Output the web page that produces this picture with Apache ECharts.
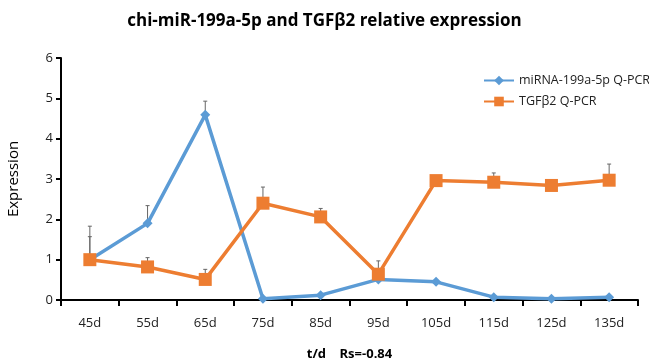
<!DOCTYPE html>
<html><head><meta charset="utf-8">
<script src="https://cdn.jsdelivr.net/npm/echarts@6/dist/echarts.min.js"></script>
<style>html,body{margin:0;padding:0;background:#fff}#c{width:649px;height:363px}</style>
</head><body><div id="c"></div>
<script>
const categories = ['45d','55d','65d','75d','85d','95d','105d','115d','125d','135d'];
const mirna = [1.0, 1.9, 4.59, 0.03, 0.12, 0.51, 0.45, 0.07, 0.03, 0.07];
const tgfb2 = [1.0, 0.82, 0.51, 2.40, 2.06, 0.64, 2.96, 2.92, 2.84, 2.97];
const mirnaErrTop = [1.83, 2.34, 4.93, null, null, null, null, null, null, null];
const tgfb2ErrTop = [1.57, 1.05, 0.76, 2.80, 2.27, 0.97, null, 3.15, null, 3.37];
const yTicks = [0,1,2,3,4,5,6];

const FONT = '"Open Sans", "Noto Sans", sans-serif';
function errData(vals, tops){
  const out=[];
  vals.forEach((v,i)=>{ if(tops[i]!=null) out.push([i, v, tops[i]]); });
  return out;
}
function errSeries(vals, tops, z){
  return {
    type:'custom', z:z, silent:true,
    data: errData(vals, tops),
    renderItem:function(params, api){
      const p0 = api.coord([api.value(0), api.value(1)]);
      const p1 = api.coord([api.value(0), api.value(2)]);
      return {type:'group', children:[
        {type:'line', shape:{x1:p0[0],y1:p0[1],x2:p1[0],y2:p1[1]}, style:{stroke:'#666',lineWidth:1}},
        {type:'line', shape:{x1:p1[0]-2,y1:p1[1],x2:p1[0]+2,y2:p1[1]}, style:{stroke:'#666',lineWidth:1}}
      ]};
    }
  };
}
const chart = echarts.init(document.getElementById('c'));
chart.setOption({
  animation:false,
  title:{text:'chi-miR-199a-5p and TGFβ2 relative expression', left:'center', top:8,
    textStyle:{fontFamily:FONT, fontSize:17, fontWeight:'bold', color:'#000'}},
  legend:{orient:'vertical', left:478, top:69, itemGap:8, itemWidth:30, itemHeight:12,
    textStyle:{fontFamily:FONT, fontSize:12.5, color:'#222'},
    data:['miRNA-199a-5p Q-PCR','TGFβ2 Q-PCR']},
  grid:{left:61, right:11, top:58, bottom:63, containLabel:false, outerBoundsMode:'none'},
  xAxis:{type:'category', data:categories, boundaryGap:true,
    name:'t/d    Rs=-0.84', nameLocation:'middle', nameGap:48,
    nameTextStyle:{fontFamily:FONT, fontSize:13, fontWeight:'bold', color:'#000'},
    axisLine:{lineStyle:{color:'#000', width:2, opacity:1}},
    axisTick:{show:true, length:6, lineStyle:{color:'#000', width:2}},
    axisLabel:{fontFamily:FONT, fontSize:13, color:'#222', margin:17}},
  yAxis:{type:'value', min:0, max:6, interval:1,
    name:'Expression', nameLocation:'middle', nameGap:40,
    nameTextStyle:{fontFamily:FONT, fontSize:15, color:'#000'},
    axisLine:{show:true, lineStyle:{color:'#000', width:2, opacity:1}},
    axisTick:{show:true, length:5, lineStyle:{color:'#000', width:2}},
    splitLine:{show:false},
    axisLabel:{fontFamily:FONT, fontSize:13, color:'#222', margin:8,
      formatter:function(v){return yTicks.indexOf(v)>=0?String(v):'';}}},
  series:[
    errSeries(mirna, mirnaErrTop, 1),
    errSeries(tgfb2, tgfb2ErrTop, 1),
    {name:'miRNA-199a-5p Q-PCR', type:'line', data:mirna, z:3,
      symbol:'diamond', symbolSize:10,
      lineStyle:{color:'#5B9BD5', width:3.5}, itemStyle:{color:'#5B9BD5'}},
    {name:'TGFβ2 Q-PCR', type:'line', data:tgfb2, z:4,
      symbol:'rect', symbolSize:13,
      lineStyle:{color:'#ED7D31', width:3.5}, itemStyle:{color:'#ED7D31'}}
  ]
});
</script></body></html>
